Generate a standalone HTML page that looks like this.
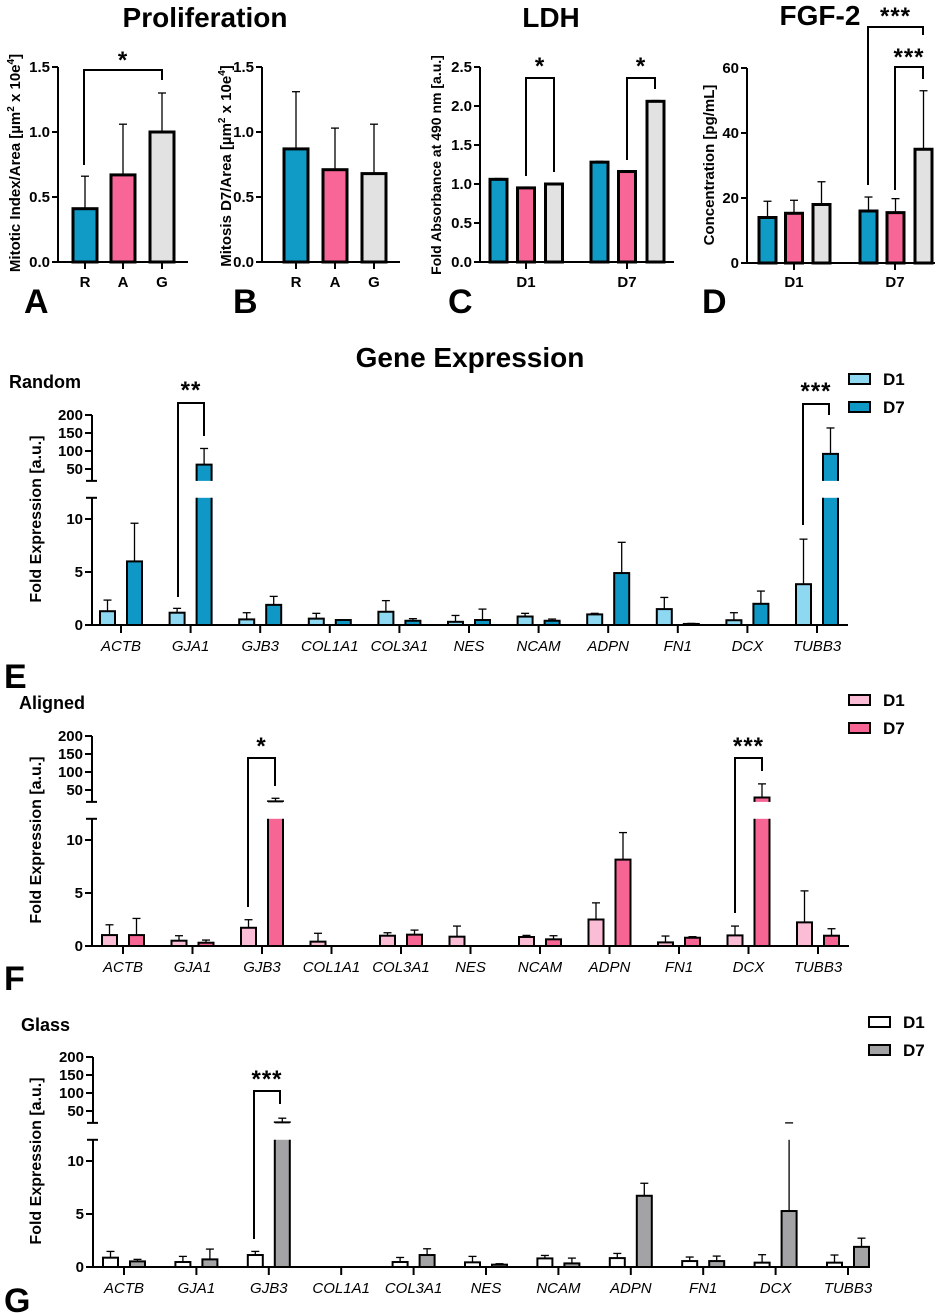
<!DOCTYPE html>
<html><head><meta charset="utf-8">
<style>
html,body{margin:0;padding:0;background:#fff;}
svg{display:block;font-family:"Liberation Sans",Arial,sans-serif;}
</style></head>
<body>
<svg id="fig" xmlns="http://www.w3.org/2000/svg" width="941" height="1313" viewBox="0 0 941 1313">
<text x="205" y="27" font-size="28" font-weight="bold" text-anchor="middle">Proliferation</text>
<text x="551" y="27" font-size="28" font-weight="bold" text-anchor="middle">LDH</text>
<text x="820" y="25" font-size="28" font-weight="bold" text-anchor="middle">FGF-2</text>
<text x="470" y="367" font-size="28" font-weight="bold" text-anchor="middle">Gene Expression</text>
<text x="24" y="313" font-size="34" font-weight="bold">A</text>
<text x="233" y="313" font-size="34" font-weight="bold">B</text>
<text x="448" y="313" font-size="34" font-weight="bold">C</text>
<text x="702" y="313" font-size="34" font-weight="bold">D</text>
<text x="4" y="688" font-size="34" font-weight="bold">E</text>
<text x="4" y="990" font-size="34" font-weight="bold">F</text>
<text x="4" y="1312" font-size="34" font-weight="bold">G</text>
<text x="9" y="388" font-size="18" font-weight="bold">Random</text>
<text x="19" y="709" font-size="18" font-weight="bold">Aligned</text>
<text x="21" y="1031" font-size="18" font-weight="bold">Glass</text>
<text transform="translate(20,163) rotate(-90)" font-size="15" font-weight="bold" text-anchor="middle">Mitotic Index/Area [µm<tspan font-size="10" dy="-6">2</tspan><tspan dy="6"> x 10e</tspan><tspan font-size="10" dy="-6">4</tspan><tspan dy="6">]</tspan></text>
<text transform="translate(231,166) rotate(-90)" font-size="15" font-weight="bold" text-anchor="middle">Mitosis D7/Area [µm<tspan font-size="10" dy="-6">2</tspan><tspan dy="6"> x 10e</tspan><tspan font-size="10" dy="-6">4</tspan><tspan dy="6">]</tspan></text>
<text transform="translate(441,165) rotate(-90)" font-size="14" font-weight="bold" text-anchor="middle">Fold Absorbance at 490 nm [a.u.]</text>
<text transform="translate(714,165) rotate(-90)" font-size="15" font-weight="bold" text-anchor="middle">Concentration [pg/mL]</text>
</svg>
<script>
// ---- top panel data ----
const propCats = ['R','A','G'];
const propA = [0.41, 0.67, 1.00];
const propAErr = [0.66, 1.06, 1.30];
const propB = [0.87, 0.71, 0.68];
const propBErr = [1.31, 1.03, 1.06];
const propTicks = [0, 0.5, 1.0, 1.5];
const dayCats = ['D1','D7'];
const ldhD1 = [1.06, 0.95, 1.00];
const ldhD1Err = [1.07, 0.96, 1.01];
const ldhD7 = [1.28, 1.16, 2.06];
const ldhD7Err = [1.29, 1.17, 2.07];
const ldhTicks = [0, 0.5, 1.0, 1.5, 2.0, 2.5];
const fgfD1 = [14, 15.3, 18];
const fgfD1Err = [19, 19.3, 25];
const fgfD7 = [16, 15.5, 35];
const fgfD7Err = [20.3, 19.8, 53];
const fgfTicks = [0, 20, 40, 60];
// ---- gene data ----
const genes = ['ACTB','GJA1','GJB3','COL1A1','COL3A1','NES','NCAM','ADPN','FN1','DCX','TUBB3'];
const randD1 = [1.3, 1.16, 0.53, 0.6, 1.25, 0.3, 0.8, 1.0, 1.5, 0.45, 3.85];
const randD1Err = [2.35, 1.57, 1.16, 1.1, 2.3, 0.9, 1.1, 1.1, 2.6, 1.16, 8.1];
const randD7 = [6.0, 62, 1.9, 0.47, 0.4, 0.47, 0.4, 4.9, 0.1, 2.0, 92];
const randD7Err = [9.6, 107, 2.7, 0.5, 0.6, 1.5, 0.56, 7.8, 0.15, 3.2, 164];
const aligD1 = [1.03, 0.5, 1.72, 0.41, 0.97, 0.88, 0.85, 2.5, 0.34, 1.0, 2.23];
const aligD1Err = [2.0, 0.97, 2.48, 1.2, 1.25, 1.88, 1.0, 4.07, 0.94, 1.88, 5.2];
const aligD7 = [1.03, 0.31, 18, 0, 1.07, 0, 0.63, 8.15, 0.78, 29, 0.97];
const aligD7Err = [2.6, 0.56, 27, 0, 1.5, 0, 0.97, 10.7, 0.88, 67, 1.63];
const glasD1 = [0.88, 0.47, 1.13, 0, 0.47, 0.44, 0.81, 0.84, 0.56, 0.41, 0.41];
const glasD1Err = [1.47, 1.0, 1.47, 0, 0.9, 1.0, 1.09, 1.28, 0.94, 1.16, 1.13];
const glasD7 = [0.53, 0.72, 18, 0, 1.13, 0.22, 0.34, 6.72, 0.56, 5.28, 1.9];
const glasD7Err = [0.72, 1.69, 30, 0, 1.72, 0.31, 0.84, 7.9, 1.03, 17, 2.72];
const lowTicks = [0, 5, 10];
const highTicks = [50, 100, 150, 200];

const NS = 'http://www.w3.org/2000/svg';
const svg = document.getElementById('fig');
function mk(tag, attrs, parent) {
  const e = document.createElementNS(NS, tag);
  for (const k in attrs) e.setAttribute(k, attrs[k]);
  (parent || svg).appendChild(e);
  return e;
}
function line(x1,y1,x2,y2,w,parent){
  return mk('line',{x1:x1,y1:y1,x2:x2,y2:y2,stroke:'#000','stroke-width':w||2},parent);
}
function txt(x,y,s,size,anchor,extra,parent){
  const t = mk('text',Object.assign({x:x,y:y,'font-size':size,'font-weight':'bold','text-anchor':anchor||'middle'},extra||{}),parent);
  t.textContent = s;
  return t;
}
function bracket(x1,y1b,x2,y2b,ytop,stars,starY,name){
  const g = mk('g',{});
  
  
  mk('polyline',{points:`${x1},${y1b} ${x1},${ytop} ${x2},${ytop} ${x2},${y2b}`,fill:'none',stroke:'#000','stroke-width':2},g);
  const t = txt((x1+x2)/2, starY+2, stars, 24, 'middle', {'letter-spacing':'1'}, g);
  
  
}

function simplePanel(o){
  const g = mk('g',{});
  
  
  const y = v => o.zero - v*o.ppu;
  o.groups.forEach((grp, gi) => {
    grp.vals.forEach((v, i) => {
      const cx = o.centers[gi][i];
      const err = grp.errs[i];
      const el = line(cx, y(v), cx, y(err), 1.3, g);
      
      
      const cap = line(cx-4, y(err), cx+4, y(err), 1.3, g);
      
      
      const r = mk('rect',{x:cx-o.bw/2, y:y(v), width:o.bw, height:o.zero-y(v), fill:o.colors[i], stroke:'#000','stroke-width':3}, g);
      
      
    });
  });
  const ya = line(o.ax, o.zero+1, o.ax, y(o.ticks[o.ticks.length-1]), 2, g);
  
  
  o.ticks.forEach(t => {
    line(o.ax-6, y(t), o.ax, y(t), 2, g);
    const tl = txt(o.ax-8, y(t)+5, o.fmt(t), 15, 'end', {}, g);
    
    
  });
  const xa = line(o.ax-1, o.zero, o.xend, o.zero, 2, g);
  
  
  o.xticks.forEach((xt, i) => {
    line(xt, o.zero, xt, o.zero+7, 2, g);
    const tl = txt(xt, 287, o.xlabels[i], 15, 'middle', {}, g);
    
    
  });
}
const gray = '#e2e2e2', blue = '#109bc7', pink = '#f76696';
simplePanel({name:'panel-a-mitotic-index', zero:262, ppu:130, ax:58, xend:188, bw:24,
  ticks:propTicks, fmt:t=>t.toFixed(1), colors:[blue,pink,gray],
  groups:[{label:'a',vals:propA,errs:propAErr}], centers:[[85,123,162]],
  xticks:[85,123,162], xlabels:propCats});
simplePanel({name:'panel-b-mitosis-d7', zero:262, ppu:130, ax:262, xend:400, bw:24,
  ticks:propTicks, fmt:t=>t.toFixed(1), colors:[blue,pink,gray],
  groups:[{label:'b',vals:propB,errs:propBErr}], centers:[[296,335,374]],
  xticks:[296,335,374], xlabels:propCats});
simplePanel({name:'panel-c-ldh', zero:262, ppu:78, ax:480, xend:674, bw:17,
  ticks:ldhTicks, fmt:t=>t.toFixed(1), colors:[blue,pink,gray],
  groups:[{label:'ldh-d1',vals:ldhD1,errs:ldhD1Err},{label:'ldh-d7',vals:ldhD7,errs:ldhD7Err}],
  centers:[[498.5,526,554],[599.5,627,655.5]], xticks:[526,627], xlabels:dayCats});
simplePanel({name:'panel-d-fgf2', zero:263, ppu:3.25, ax:747, xend:935, bw:17,
  ticks:fgfTicks, fmt:t=>String(t), colors:[blue,pink,gray],
  groups:[{label:'fgf-d1',vals:fgfD1,errs:fgfD1Err},{label:'fgf-d7',vals:fgfD7,errs:fgfD7Err}],
  centers:[[767.5,794,821.5],[868.5,895.5,923.5]], xticks:[794,895], xlabels:dayCats});
bracket(84,165,162,80,70,'*',66,'sig-bracket-a');
bracket(526,176,554,172,78,'*',72,'sig-bracket-c-d1');
bracket(627,160,655,89,78,'*',72,'sig-bracket-c-d7');
bracket(868,185,923,35,27,'***',22,'sig-bracket-d-outer');
bracket(895,190,923,79,67,'***',63,'sig-bracket-d-inner');

function genePanel(o){
  const g = mk('g',{});
  
  
  const ppu = 10.6, lowTop = 12, highBot = 17;
  const yLow = v => o.zero - v*ppu;
  const yLowTop = yLow(lowTop);
  const y200 = o.zero - 210;
  const yHigh = v => y200 + (200 - v)*0.36;
  const yHighBot = yHigh(highBot);
  const yv = v => v <= lowTop ? yLow(v) : yHigh(Math.max(v, highBot));
  genes.forEach((gn, i) => {
    const c = o.ax + o.first + i*o.step;
    [[o.d1,o.d1e,o.c1,-1],[o.d7,o.d7e,o.c7,1]].forEach(([vals,errs,col,side]) => {
      const v = vals[i], e = errs[i];
      if (v <= 0) return;
      const cx = c + side*13.5;
      const ey = yv(e);
      if (v <= lowTop && e > lowTop) {
        line(cx, yv(v), cx, yLowTop, 1.3, g);
      } else {
        line(cx, yv(v), cx, ey, 1.3, g);
      }
      const cap = line(cx-4, ey, cx+4, ey, 1.3, g);
      
      
      const bw = 15;
      if (v <= lowTop) {
        const r = mk('rect',{x:cx-bw/2,y:yLow(v),width:bw,height:o.zero-yLow(v),fill:col,stroke:'#000','stroke-width':2},g);
        
        
      } else {
        const r = mk('rect',{x:cx-bw/2,y:yLowTop,width:bw,height:o.zero-yLowTop,fill:col},g);
        
        
        line(cx-bw/2, yLowTop, cx-bw/2, o.zero, 2, g);
        line(cx+bw/2, yLowTop, cx+bw/2, o.zero, 2, g);
        const yt = yHigh(Math.max(v, highBot+1.5));
        const r2 = mk('rect',{x:cx-bw/2,y:yt,width:bw,height:yHighBot-yt,fill:col},g);
        
        
        mk('polyline',{points:`${cx-bw/2},${yHighBot} ${cx-bw/2},${yt} ${cx+bw/2},${yt} ${cx+bw/2},${yHighBot}`,fill:'none',stroke:'#000','stroke-width':2},g);
      }
    });
    line(c, o.zero, c, o.zero+8, 2, g);
    const tl = txt(c, o.zero+26, gn, 15, 'middle', {'font-weight':'normal','font-style':'italic'}, g);
    
    
  });
  const ya = line(o.ax, o.zero+1, o.ax, yLowTop, 2, g);
  
  
  const yb = line(o.ax, yHighBot, o.ax, y200, 2, g);
  
  
  line(o.ax-6, yLowTop, o.ax+5, yLowTop, 2, g);
  line(o.ax-6, yHighBot, o.ax+5, yHighBot, 2, g);
  lowTicks.forEach(t => {
    line(o.ax-7, yLow(t), o.ax, yLow(t), 2, g);
    const tl = txt(o.ax-9, yLow(t)+5, String(t), 15, 'end', {}, g);
    
    
  });
  highTicks.forEach(t => {
    line(o.ax-7, yHigh(t), o.ax, yHigh(t), 2, g);
    const tl = txt(o.ax-9, yHigh(t)+5, String(t), 15, 'end', {}, g);
    
    
  });
  const xa = line(o.ax-1, o.zero, o.xend, o.zero, 2, g);
  
  
  const yt = txt(0, 0, 'Fold Expression [a.u.]', 16, 'middle', {transform:`translate(41,${o.zero-106}) rotate(-90)`}, g);
  
  
  const lg = mk('g',{}, g);
  
  
  [['D1',o.c1],['D7',o.c7]].forEach(([lab,col],k) => {
    const ly = o.legY + k*28;
    const r = mk('rect',{x:o.legX,y:ly-5,width:21,height:10,fill:col,stroke:'#000','stroke-width':2},lg);
    
    
    const t = txt(o.legX+34, ly+6, lab, 17, 'start', {}, lg);
    
    
  });
}
genePanel({name:'panel-e-random', zero:625, ax:92, first:29, step:69.6, xend:848,
  d1:randD1, d1e:randD1Err, d7:randD7, d7e:randD7Err, c1:'#8ed8f2', c7:'#0f98c5', legX:849, legY:379});
genePanel({name:'panel-f-aligned', zero:946, ax:92, first:31, step:69.5, xend:849,
  d1:aligD1, d1e:aligD1Err, d7:aligD7, d7e:aligD7Err, c1:'#fbbdd5', c7:'#f76594', legX:849, legY:700});
genePanel({name:'panel-g-glass', zero:1267, ax:93, first:31, step:72.4, xend:866,
  d1:glasD1, d1e:glasD1Err, d7:glasD7, d7e:glasD7Err, c1:'#ffffff', c7:'#a3a3a6', legX:869, legY:1022});
bracket(178,597,204,436,403,'**',396,'sig-bracket-e-gja1');
bracket(803,525,829,415,404,'***',397,'sig-bracket-e-tubb3');
bracket(248,907,275,786,758,'*',752,'sig-bracket-f-gjb3');
bracket(735,913,762,771,758,'***',752,'sig-bracket-f-dcx');
bracket(254,1239,280,1104,1091,'***',1085,'sig-bracket-g-gjb3');
</script>
</body></html>
